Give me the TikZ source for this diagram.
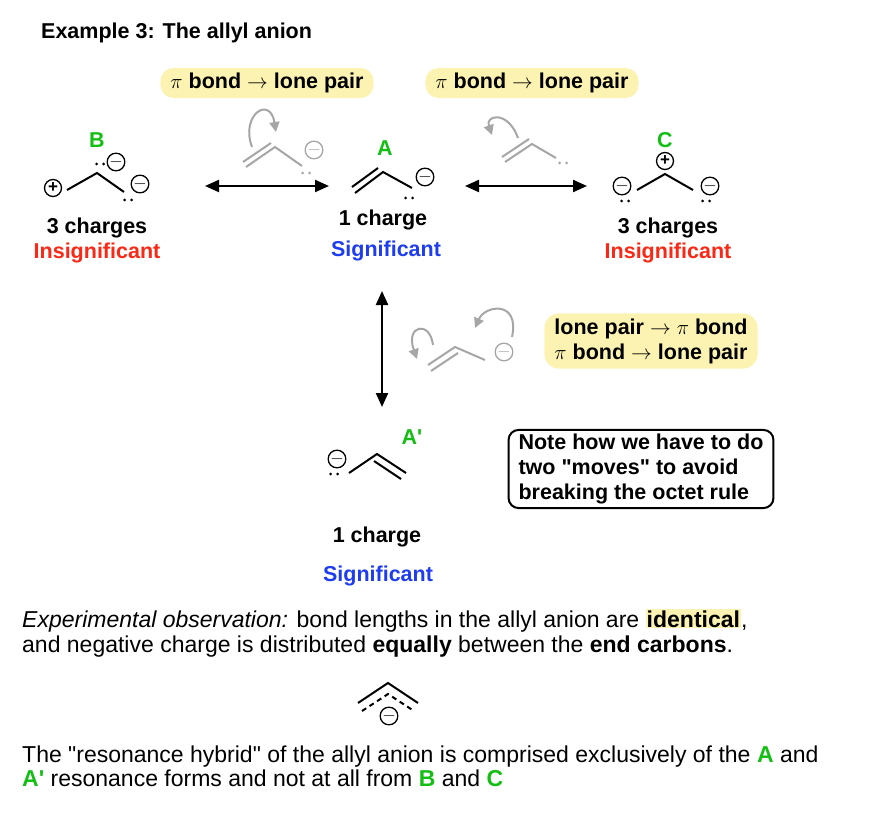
\documentclass[tikz,border=0pt]{standalone}
\usepackage{fontspec}
\setmainfont{Liberation Sans}
\usetikzlibrary{arrows.meta}
\definecolor{hlyellow}{RGB}{252,243,178}
\definecolor{sigblue}{RGB}{30,60,240}
\definecolor{insred}{RGB}{250,40,20}
\definecolor{labgreen}{RGB}{20,190,20}
\tikzstyle{txt}=[font=\fontsize{21.5}{25}\selectfont\bfseries, inner sep=1pt]
\tikzstyle{pill}=[txt, fill=hlyellow, rounded corners=13pt, inner xsep=10pt, inner ysep=5pt]
\tikzstyle{chg}=[circle, draw, line width=1.3pt, inner sep=0pt, minimum size=17pt, font=\fontsize{17}{17}\selectfont\bfseries]
\tikzstyle{bond}=[line width=2pt]
\tikzstyle{faded}=[draw=gray!70, line width=2pt]
\tikzstyle{curly}=[gray!70, line width=2pt, -{Triangle[length=10pt,width=10pt]}]
\tikzstyle{arrow}=[line width=2.2pt, {Triangle[length=14pt,width=12pt]}-{Triangle[length=14pt,width=12pt]}]
\tikzstyle{body}=[anchor=base west, inner sep=0pt, font=\fontsize{23}{27}\selectfont]
\newcommand{\lonepair}[3][black]{\fill[#1] (#2-3.5,#3) circle (1.5) (#2+3.5,#3) circle (1.5);}
\begin{document}
\begin{tikzpicture}[x=1pt,y=-1pt]
  \useasboundingbox (0,0) rectangle (882,826);
  \node[txt, anchor=west] (title) at (40,33) {Example 3: The allyl anion};
  \node[pill] (p1) at (267,83) {$\pi$ bond $\rightarrow$ lone pair};
  \node[pill] (p2) at (532,83) {$\pi$ bond $\rightarrow$ lone pair};

  % structure B
  \node[txt, labgreen] (lB) at (97,140) {B};
  \coordinate (b1) at (67,190); \coordinate (b2) at (97,173); \coordinate (b3) at (124,192);
  \draw[bond] (b1) -- (b2) -- (b3);
  \node[chg] (bp) at (53,188) {+};
  \node[chg] (bm1) at (116,162) {$-$};
  \lonepair{100}{164}
  \node[chg] (bm2) at (140,184) {$-$};
  \lonepair{128}{200}
  \node[txt] (bc) at (97,228) {3 charges};
  \node[txt, insred] (bs) at (97,253) {Insignificant};

  % structure A
  \node[txt, labgreen] (lA) at (385,148) {A};
  \coordinate (a1) at (355,193); \coordinate (a2) at (383,172); \coordinate (a3) at (412,188);
  \draw[bond] (a1) -- (a2) -- (a3);
  \draw[bond] (352,187) -- (378,168);
  \node[chg] (am) at (425,177) {$-$};
  \lonepair{409}{198}
  \node[txt] (ac) at (383,220) {1 charge};
  \node[txt, sigblue] (as) at (386,251) {Significant};

  % structure C
  \node[txt, labgreen] (lC) at (665,140) {C};
  \coordinate (c1) at (637,190); \coordinate (c2) at (665,174); \coordinate (c3) at (693,190);
  \draw[bond] (c1) -- (c2) -- (c3);
  \node[chg] (cp) at (665,161) {+};
  \node[chg] (cm1) at (622,186) {$-$};
  \node[chg] (cm2) at (710,186) {$-$};
  \lonepair{625}{201}
  \lonepair{706}{201}
  \node[txt] (cc) at (668,228) {3 charges};
  \node[txt, insred] (cs) at (668,253) {Insignificant};

  % resonance arrows
  \coordinate (r1) at (205,186); \coordinate (r2) at (329,186);
  \draw[arrow] (r1) -- (r2);
  \coordinate (r3) at (465,186); \coordinate (r4) at (587,186);
  \draw[arrow] (r3) -- (r4);
  \coordinate (r5) at (382,291); \coordinate (r6) at (382,407);
  \draw[arrow] (r5) -- (r6);

  % faded helpers
  \coordinate (f1) at (246,167); \coordinate (f2) at (275,147); \coordinate (f3) at (302,166);
  \draw[faded] (f1) -- (f2) -- (f3); \draw[faded] (243,162) -- (271,143);
  \node[chg, draw=gray!70, text=gray!70] (fm) at (314,150) {$-$};
  \lonepair[gray!70]{306}{173}
  \draw[curly] (252,147) .. controls (240,115) and (270,95) .. (276,132);

  \coordinate (g1) at (505,162); \coordinate (g2) at (532,144); \coordinate (g3) at (556,158);
  \draw[faded] (g1) -- (g2) -- (g3); \draw[faded] (502,157) -- (529,139);
  \lonepair[gray!70]{563}{163}
  \draw[curly] (518,138) .. controls (508,110) and (485,115) .. (492,135);

  \coordinate (h1) at (428,365); \coordinate (h2) at (455,347); \coordinate (h3) at (485,360);
  \draw[faded] (h1) -- (h2) -- (h3); \draw[faded] (431,371) -- (458,353);
  \node[chg, draw=gray!70, text=gray!70] (hm) at (504,352) {$-$};
  \draw[curly] (433,345) .. controls (430,320) and (405,325) .. (417,359);
  \draw[curly] (512,337) .. controls (520,300) and (485,305) .. (475,328);
  \node[pill, align=left, rounded corners=14pt] (p3) at (651,341) {lone pair $\rightarrow$ $\pi$ bond\\$\pi$ bond $\rightarrow$ lone pair};

  % structure A'
  \node[txt, labgreen] (lAp) at (412,437) {A\textquotesingle};
  \coordinate (d1) at (349,473); \coordinate (d2) at (377,454); \coordinate (d3) at (406,473);
  \draw[bond] (d1) -- (d2) -- (d3); \draw[bond] (374,461) -- (401,479);
  \node[chg] (dm) at (337,459) {$-$};
  \lonepair{334}{474}
  \node[txt] (dc) at (377,537) {1 charge};
  \node[txt, sigblue] (ds) at (378,576) {Significant};

  \node[txt, draw, line width=2pt, rounded corners=10pt, align=left, inner xsep=10pt, inner ysep=4pt] (note) at (641,469) {Note how we have to do\\two \textquotedbl moves\textquotedbl\ to avoid\\breaking the octet rule};

  % observation text
  \node[body] (obs1) at (22,627) {\textit{Experimental observation:} bond lengths in the allyl anion are \setlength{\fboxsep}{1pt}\colorbox{hlyellow}{\bfseries identical},};
  \node[body] (obs2) at (22,652) {and negative charge is distributed \textbf{equally} between the \textbf{end carbons}.};

  % hybrid
  \coordinate (k1) at (358,703); \coordinate (k2) at (388,683); \coordinate (k3) at (418,703);
  \draw[line width=2pt] (k1) -- (k2) -- (k3);
  \draw[line width=2pt, dash pattern=on 5pt off 4pt] (362,711) -- (388,694) -- (414,711);
  \node[chg] (km) at (389,716) {$-$};

  \node[body] (hyb1) at (22,762) {The \textquotedbl resonance hybrid\textquotedbl\ of the allyl anion is comprised exclusively of the \textcolor{labgreen}{\bfseries A} and};
  \node[body] (hyb2) at (22,786) {\textcolor{labgreen}{\bfseries A\textquotesingle} resonance forms and not at all from \textcolor{labgreen}{\bfseries B} and \textcolor{labgreen}{\bfseries C}};
\end{tikzpicture}
\end{document}
